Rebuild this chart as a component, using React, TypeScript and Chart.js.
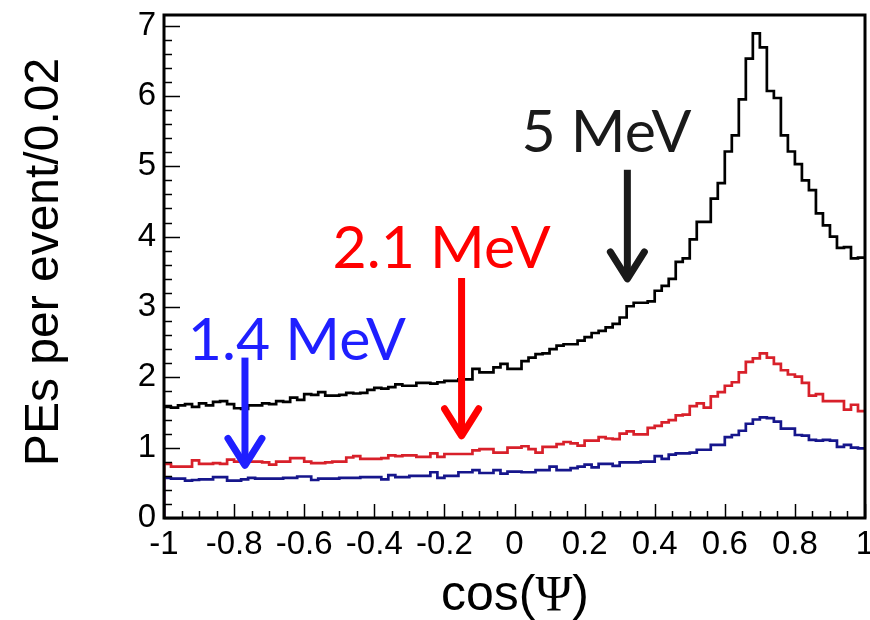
import React, { useEffect, useRef } from 'react';
import { Chart, registerables } from 'chart.js';

Chart.register(...registerables);

// ---- axis definition ----
const X_MIN = -1;
const X_MAX = 1;
const BIN_WIDTH = 0.02;
const Y_MIN = 0;
const Y_MAX = 7.15;
const X_TICKS = [-1, -0.8, -0.6, -0.4, -0.2, 0, 0.2, 0.4, 0.6, 0.8, 1];
const Y_TICKS = [0, 1, 2, 3, 4, 5, 6, 7];
const X_TITLE_MAIN = 'cos(';
const X_TITLE_GREEK = 'Ψ';
const X_TITLE_END = ')';
const Y_TITLE = 'PEs per event/0.02';

// ---- series values: one value per 0.02 bin, from cos(Psi) = -1 to 1 ----
const SERIES_5MEV = [
  1.58, 1.57, 1.60, 1.62, 1.58, 1.63, 1.60, 1.65, 1.66, 1.62,
  1.56, 1.55, 1.60, 1.60, 1.63, 1.62, 1.66, 1.65, 1.71, 1.68,
  1.76, 1.75, 1.79, 1.74, 1.74, 1.75, 1.78, 1.77, 1.78, 1.82,
  1.85, 1.84, 1.86, 1.90, 1.88, 1.88, 1.92, 1.92, 1.91, 1.93,
  1.95, 1.95, 1.97, 1.97, 2.12, 2.07, 2.07, 2.14, 2.19, 2.12,
  2.12, 2.23, 2.28, 2.33, 2.34, 2.40, 2.45, 2.47, 2.47, 2.52,
  2.57, 2.63, 2.66, 2.71, 2.76, 2.85, 3.01, 3.06, 3.06, 3.08,
  3.23, 3.30, 3.40, 3.64, 3.69, 3.96, 4.21, 4.21, 4.54, 4.76,
  5.21, 5.44, 5.95, 6.53, 6.89, 6.69, 6.07, 5.97, 5.44, 5.21,
  5.03, 4.80, 4.66, 4.33, 4.16, 4.00, 3.84, 3.85, 3.69, 3.70,
];

const SERIES_2_1MEV = [
  0.77, 0.73, 0.73, 0.73, 0.82, 0.77, 0.77, 0.78, 0.77, 0.83,
  0.80, 0.80, 0.80, 0.80, 0.79, 0.76, 0.80, 0.80, 0.85, 0.85,
  0.80, 0.78, 0.78, 0.79, 0.80, 0.80, 0.86, 0.88, 0.84, 0.84,
  0.84, 0.85, 0.89, 0.88, 0.89, 0.89, 0.87, 0.87, 0.92, 0.87,
  0.91, 0.91, 0.91, 0.91, 0.96, 0.98, 0.98, 0.93, 0.93, 1.00,
  1.00, 1.02, 0.98, 0.93, 1.01, 1.01, 1.05, 1.08, 1.06, 1.03,
  1.10, 1.10, 1.15, 1.13, 1.12, 1.20, 1.23, 1.19, 1.19, 1.28,
  1.31, 1.36, 1.39, 1.46, 1.47, 1.59, 1.63, 1.57, 1.73, 1.79,
  1.88, 1.93, 2.07, 2.22, 2.27, 2.34, 2.28, 2.19, 2.10, 2.04,
  2.01, 1.92, 1.74, 1.76, 1.66, 1.66, 1.66, 1.54, 1.61, 1.52,
];

const SERIES_1_4MEV = [
  0.57, 0.56, 0.56, 0.53, 0.54, 0.55, 0.55, 0.58, 0.58, 0.53,
  0.53, 0.55, 0.57, 0.56, 0.56, 0.56, 0.56, 0.57, 0.57, 0.59,
  0.59, 0.54, 0.56, 0.56, 0.56, 0.57, 0.57, 0.57, 0.58, 0.58,
  0.58, 0.55, 0.61, 0.58, 0.58, 0.60, 0.60, 0.60, 0.65, 0.57,
  0.60, 0.60, 0.65, 0.65, 0.68, 0.64, 0.64, 0.68, 0.63, 0.66,
  0.66, 0.65, 0.65, 0.68, 0.68, 0.73, 0.68, 0.68, 0.71, 0.73,
  0.76, 0.72, 0.77, 0.77, 0.74, 0.79, 0.79, 0.79, 0.80, 0.80,
  0.88, 0.84, 0.90, 0.92, 0.92, 0.93, 0.97, 0.97, 1.04, 1.04,
  1.15, 1.18, 1.24, 1.34, 1.40, 1.43, 1.42, 1.37, 1.27, 1.27,
  1.18, 1.17, 1.11, 1.10, 1.11, 1.10, 1.01, 1.04, 1.00, 0.99,
];

// ---- annotations (data coordinates) ----
const ANNOTATIONS = [
  { text: '5 MeV', color: '#1a1a1a', textX: 0.02, textY: 5.2, arrowX: 0.322, arrowTop: 4.95, arrowTip: 3.37 },
  { text: '2.1 MeV', color: '#ff0000', textX: -0.519, textY: 3.55, arrowX: -0.151, arrowTop: 3.41, arrowTip: 1.14 },
  { text: '1.4 MeV', color: '#1f1fff', textX: -0.932, textY: 2.24, arrowX: -0.769, arrowTop: 2.28, arrowTip: 0.72 },
];

const SANS = "'Liberation Sans', Arial, Helvetica, sans-serif";
const NARROW = "'Liberation Sans Narrow', 'Arial Narrow', 'Liberation Sans', Arial, sans-serif";
const SERIF = "'Liberation Serif', 'Times New Roman', serif";
const NOTE_FONT = "Lato, 'Open Sans', sans-serif";

function toSteps(values: number[]) {
  const pts: { x: number; y: number }[] = [{ x: X_MIN, y: 0 }];
  values.forEach((v, i) => pts.push({ x: +(X_MIN + i * BIN_WIDTH).toFixed(2), y: v }));
  pts.push({ x: X_MAX, y: values[values.length - 1] });
  return pts;
}

function fmt(v: number) {
  const r = Math.round(v * 10) / 10;
  return String(r === 0 ? 0 : r);
}

const overlayPlugin = {
  id: 'rootStyleOverlay',
  afterDraw(chart: any) {
    const ctx = chart.ctx as CanvasRenderingContext2D;
    const { left, right, top, bottom } = chart.chartArea;
    const xs = chart.scales.x;
    const ys = chart.scales.y;
    ctx.save();

    // inward ticks
    ctx.strokeStyle = '#000';
    ctx.lineWidth = 1.5;
    for (let k = 0; k <= 40; k++) {
      const v = X_MIN + k * 0.05;
      const px = Math.round(xs.getPixelForValue(v)) + 0.5;
      const len = k % 4 === 0 ? 14 : 7;
      ctx.beginPath();
      ctx.moveTo(px, bottom);
      ctx.lineTo(px, bottom - len);
      ctx.stroke();
    }
    for (let k = 0; k * 0.2 <= Y_MAX; k++) {
      const v = k * 0.2;
      const py = Math.round(ys.getPixelForValue(v)) + 0.5;
      const len = k % 5 === 0 ? 16 : 8;
      ctx.beginPath();
      ctx.moveTo(left, py);
      ctx.lineTo(left + len, py);
      ctx.stroke();
    }

    // frame
    ctx.lineWidth = 3;
    ctx.strokeRect(left, top, right - left, bottom - top);

    // annotations
    for (const a of ANNOTATIONS) {
      ctx.fillStyle = a.color;
      ctx.strokeStyle = a.color;
      ctx.font = `59px ${NOTE_FONT}`;
      ctx.textAlign = 'left';
      ctx.textBaseline = 'alphabetic';
      ctx.fillText(a.text, xs.getPixelForValue(a.textX), ys.getPixelForValue(a.textY));

      const ax = xs.getPixelForValue(a.arrowX);
      const ay0 = ys.getPixelForValue(a.arrowTop);
      const ay1 = ys.getPixelForValue(a.arrowTip);
      ctx.lineWidth = 7;
      ctx.lineCap = 'butt';
      ctx.beginPath();
      ctx.moveTo(ax, ay0);
      ctx.lineTo(ax, ay1 - 4);
      ctx.stroke();
      ctx.lineCap = 'round';
      ctx.lineJoin = 'round';
      ctx.beginPath();
      ctx.moveTo(ax - 17, ay1 - 29);
      ctx.lineTo(ax, ay1 - 2);
      ctx.lineTo(ax + 17, ay1 - 29);
      ctx.stroke();
    }

    // axis titles
    ctx.fillStyle = '#000';
    ctx.textBaseline = 'alphabetic';
    ctx.save();
    ctx.translate(58, 262);
    ctx.rotate(-Math.PI / 2);
    ctx.font = `48px ${SANS}`;
    ctx.textAlign = 'center';
    ctx.fillText(Y_TITLE, 0, 0);
    ctx.restore();

    const fs = 50;
    ctx.font = `${fs}px ${NARROW}`;
    const w1 = ctx.measureText(X_TITLE_MAIN).width;
    const w3 = ctx.measureText(X_TITLE_END).width;
    ctx.font = `${fs}px ${SERIF}`;
    const w2 = ctx.measureText(X_TITLE_GREEK).width;
    const total = w1 + w2 + w3;
    const cx = 515;
    let x0 = cx - total / 2;
    const base = 610;
    ctx.textAlign = 'left';
    ctx.font = `${fs}px ${NARROW}`;
    ctx.fillText(X_TITLE_MAIN, x0, base);
    x0 += w1;
    ctx.font = `${fs}px ${SERIF}`;
    ctx.fillText(X_TITLE_GREEK, x0, base);
    x0 += w2;
    ctx.font = `${fs}px ${NARROW}`;
    ctx.fillText(X_TITLE_END, x0, base);

    ctx.restore();
  },
};

export default function App() {
  const canvasRef = useRef<HTMLCanvasElement | null>(null);

  useEffect(() => {
    if (!canvasRef.current) return;
    const mk = (values: number[], color: string) => ({
      data: toSteps(values),
      borderColor: color,
      backgroundColor: color,
      borderWidth: 2.7,
      stepped: true as const,
      pointRadius: 0,
      fill: false,
      tension: 0,
    });
    const chart = new Chart(canvasRef.current, {
      type: 'line',
      data: {
        datasets: [
          { label: '1.4 MeV', ...mk(SERIES_1_4MEV, '#16168c') },
          { label: '2.1 MeV', ...mk(SERIES_2_1MEV, '#d8202a') },
          { label: '5 MeV', ...mk(SERIES_5MEV, '#000000') },
        ],
      },
      options: {
        animation: false,
        responsive: false,
        layout: { padding: { left: 0, top: 15, right: 5, bottom: 0 } },
        plugins: { legend: { display: false }, tooltip: { enabled: false } },
        scales: {
          x: {
            type: 'linear',
            min: X_MIN,
            max: X_MAX,
            afterBuildTicks: (s: any) => {
              s.ticks = X_TICKS.map((v) => ({ value: v }));
            },
            afterFit: (s: any) => {
              s.height = 102;
              s.paddingLeft = 0;
              s.paddingRight = 0;
            },
            grid: { display: false, drawTicks: false },
            border: { display: false },
            ticks: {
              color: '#000',
              font: { family: NARROW, size: 33 },
              padding: 7,
              maxRotation: 0,
              autoSkip: false,
              callback: (v: any) => fmt(Number(v)),
            },
          },
          y: {
            type: 'linear',
            min: Y_MIN,
            max: Y_MAX,
            afterBuildTicks: (s: any) => {
              s.ticks = Y_TICKS.map((v) => ({ value: v }));
            },
            afterFit: (s: any) => {
              s.width = 164;
              s.paddingTop = 0;
              s.paddingBottom = 0;
            },
            grid: { display: false, drawTicks: false },
            border: { display: false },
            ticks: {
              color: '#000',
              font: { family: NARROW, size: 33 },
              padding: 8,
              autoSkip: false,
              callback: (v: any) => fmt(Number(v)),
            },
          },
        },
      },
      plugins: [overlayPlugin],
    });
    return () => chart.destroy();
  }, []);

  return (
    <div style={{ position: 'absolute', left: 0, top: 0, width: 870, height: 620, background: '#fff' }}>
      <canvas ref={canvasRef} width={870} height={620} style={{ display: 'block' }} />
    </div>
  );
}
